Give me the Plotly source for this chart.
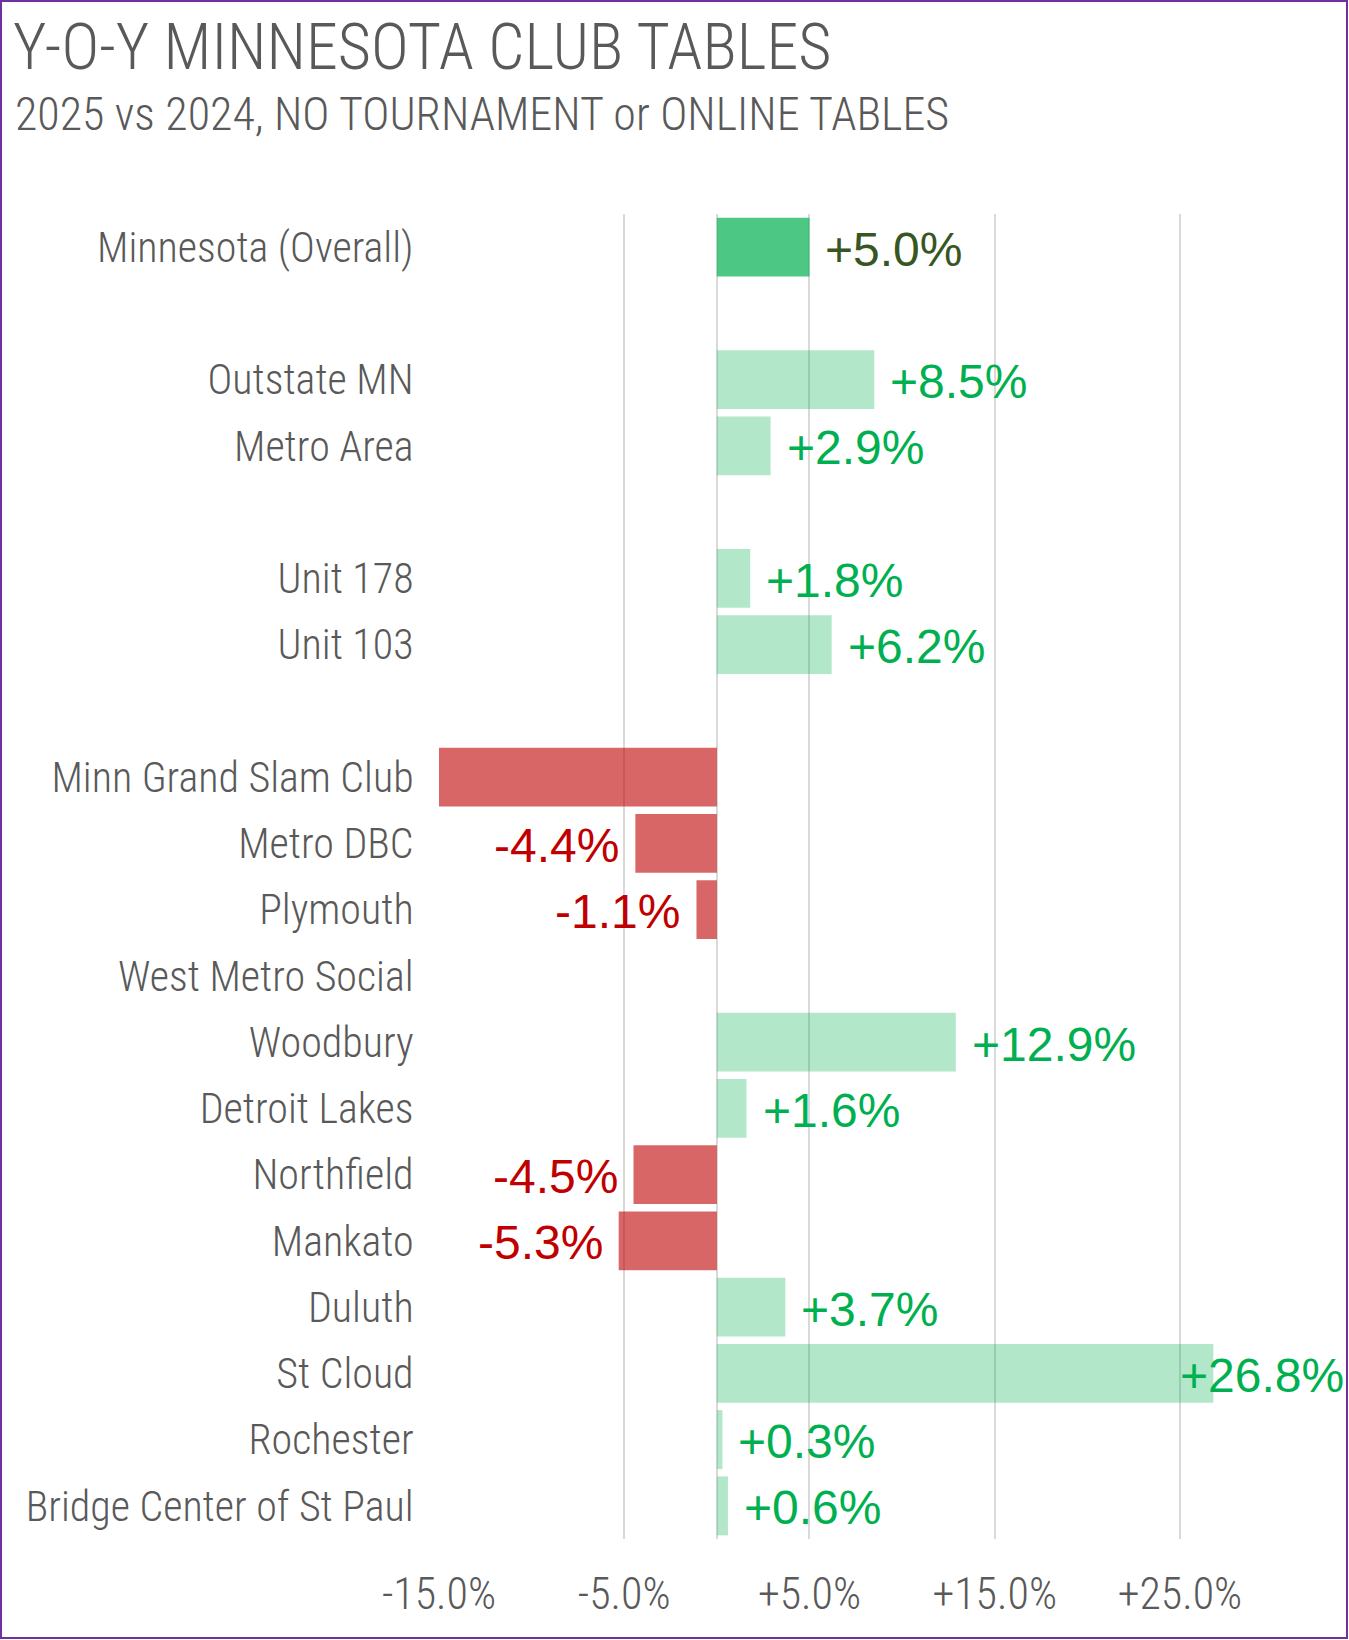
import plotly.graph_objects as go

# rows top to bottom, "" = spacer row
categories = [
    "Minnesota (Overall)", "",
    "Outstate MN", "Metro Area", "",
    "Unit 178", "Unit 103", "",
    "Minn Grand Slam Club", "Metro DBC", "Plymouth", "West Metro Social",
    "Woodbury", "Detroit Lakes", "Northfield", "Mankato", "Duluth",
    "St Cloud", "Rochester", "Bridge Center of St Paul",
]
# y-o-y change, %  (Grand Slam runs off the axis, value estimated)
change = [
    5.0, None,
    8.5, 2.9, None,
    1.8, 6.2, None,
    -16.5, -4.4, -1.1, None,
    12.9, 1.6, -4.5, -5.3, 3.7,
    26.8, 0.3, 0.6,
]
highlight = ["Minnesota (Overall)"]
x_ticks = [-15, -5, 5, 15, 25]
x_min, x_max = -15, 27

W, H = 1349, 1640
ML, MR, MT, MB = 439, 132, 214, 101
PW, PH = W - ML - MR, H - MT - MB

GREY = "#595959"
NARROW = "Roboto Condensed, Roboto, sans-serif"
WIDE = "Liberation Sans, Arial, sans-serif"


def px(x):
    return (x - ML) / PW


def py(y):
    return 1 - (y - MT) / PH


rows = list(range(len(categories)))
bar_colors, label_colors = [], []
for c, v in zip(categories, change):
    if c in highlight:
        bar_colors.append("rgba(0,176,80,0.7)")
        label_colors.append("#375623")
    elif v is not None and v < 0:
        bar_colors.append("rgba(192,0,0,0.6)")
        label_colors.append("#C00000")
    else:
        bar_colors.append("rgba(0,176,80,0.3)")
        label_colors.append("#00B050")

fig = go.Figure(go.Bar(
    x=change, y=rows, orientation="h",
    marker=dict(color=bar_colors, line_width=0),
    hoverinfo="skip",
))

# data labels
for r, v, col in zip(rows, change, label_colors):
    if v is None or v < x_min or v > x_max:
        continue
    txt = f"{v:+.1f}%"
    font = dict(family=WIDE, size=48, color=col)
    if v > x_max - 3:
        # keep the label inside the chart, like Excel does
        fig.add_annotation(x=px(1346), xref="paper", y=r, yref="y", text=txt,
                           showarrow=False, xanchor="right", yanchor="middle",
                           font=font, yshift=-2)
    elif v >= 0:
        fig.add_annotation(x=v, y=r, text=txt, showarrow=False, xanchor="left",
                           yanchor="middle", xshift=14, yshift=-2, font=font)
    else:
        fig.add_annotation(x=v, y=r, text=txt, showarrow=False, xanchor="right",
                           yanchor="middle", xshift=-14, yshift=-2, font=font)

fig.add_annotation(x=px(11), y=py(48), xref="paper", yref="paper",
                   text="Y-O-Y MINNESOTA CLUB TABLES", showarrow=False,
                   xanchor="left", yanchor="middle",
                   font=dict(family=NARROW, size=64, color=GREY, weight=300))
fig.add_annotation(x=px(13), y=py(114), xref="paper", yref="paper",
                   text="2025 vs 2024, NO TOURNAMENT or ONLINE TABLES", showarrow=False,
                   xanchor="left", yanchor="middle",
                   font=dict(family=NARROW, size=46, color=GREY, weight=300))

# purple frame round the whole chart
fig.add_shape(type="rect", xref="paper", yref="paper",
              x0=px(1), x1=px(W - 2), y0=py(H - 2), y1=py(1),
              line=dict(color="#7030A0", width=2), layer="above")

fig.update_layout(
    width=W, height=H,
    margin=dict(l=ML, r=MR, t=MT, b=MB, autoexpand=False),
    paper_bgcolor="white", plot_bgcolor="white",
    showlegend=False, bargap=0.11,
    xaxis=dict(
        range=[x_min, x_max], tickvals=x_ticks,
        ticktext=[f"{t:+.1f}%" for t in x_ticks],
        showgrid=True, gridcolor="#D9D9D9", gridwidth=2,
        zeroline=True, zerolinecolor="#D9D9D9", zerolinewidth=2,
        showline=False, ticks="outside", ticklen=16,
        tickcolor="rgba(0,0,0,0)", automargin=False,
        tickfont=dict(family=NARROW, size=44, color=GREY, weight=300),
        fixedrange=True,
    ),
    yaxis=dict(
        tickvals=rows, ticktext=categories,
        range=[len(rows) - 0.5, -0.5],
        showgrid=False, zeroline=False, showline=False,
        ticks="outside", ticklen=16, tickcolor="rgba(0,0,0,0)",
        automargin=False,
        tickfont=dict(family=NARROW, size=42, color=GREY, weight=300),
        fixedrange=True,
    ),
)

fig.write_html("out.html", config={"displayModeBar": False},
               post_script="document.body.style.margin='0';")
